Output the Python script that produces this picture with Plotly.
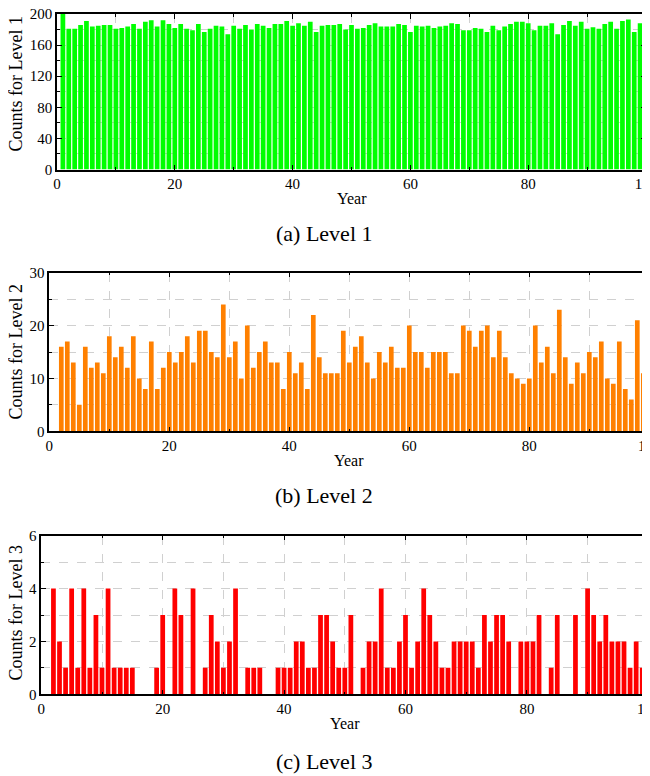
import plotly.graph_objects as go

# ---------------- data ----------------
years_l1 = list(range(1, 100))
counts_l1 = [200, 181, 181, 186, 191, 184, 185, 186, 186, 181,
             182, 184, 187, 181, 190, 192, 184, 192, 187, 182,
             187, 181, 179, 187, 177, 181, 185, 184, 174, 185,
             181, 186, 180, 187, 185, 182, 187, 187, 191, 185,
             188, 185, 190, 177, 185, 186, 186, 187, 180, 186,
             181, 182, 186, 188, 184, 184, 184, 187, 186, 177,
             185, 184, 185, 182, 184, 185, 188, 187, 179, 179,
             182, 181, 177, 185, 179, 184, 187, 190, 190, 188,
             179, 185, 185, 188, 174, 186, 191, 185, 190, 181,
             183, 181, 187, 190, 181, 191, 193, 177, 188]

years_l2 = list(range(2, 100))
counts_l2 = [16, 17, 13, 5, 16, 12, 13, 11, 18,
             14, 16, 12, 18, 10, 8, 17, 8, 12, 15,
             13, 15, 18, 13, 19, 19, 15, 14, 24, 14,
             17, 10, 20, 12, 15, 17, 13, 13, 8, 15,
             11, 13, 8, 22, 14, 11, 11, 11, 19, 13,
             16, 18, 13, 10, 15, 13, 16, 12, 12, 20,
             15, 15, 12, 15, 15, 15, 11, 11, 20, 19,
             16, 19, 20, 14, 19, 14, 11, 10, 9, 10,
             20, 13, 16, 11, 23, 14, 9, 13, 11, 15,
             14, 17, 10, 9, 17, 8, 6, 21, 11]

years_l3 = list(range(2, 101))
counts_l3 = [4, 2, 1, 4, 1, 4, 1, 3, 1,
             4, 1, 1, 1, 1, 0, 0, 0, 1, 3,
             0, 4, 3, 0, 4, 0, 1, 3, 2, 1,
             2, 4, 0, 1, 1, 1, 0, 0, 1, 1,
             1, 2, 2, 1, 1, 3, 3, 2, 1, 1,
             3, 0, 1, 2, 2, 4, 1, 1, 2, 3,
             1, 2, 4, 3, 2, 1, 1, 2, 2, 2,
             2, 1, 3, 2, 3, 3, 2, 0, 2, 2,
             2, 3, 0, 1, 3, 0, 0, 3, 0, 4,
             3, 2, 3, 2, 2, 2, 1, 2, 1, 2]

x_ticks = [0, 20, 40, 60, 80, 100]
y_ticks_l1 = [0, 40, 80, 120, 160, 200]
y_ticks_l2 = [0, 10, 20, 30]
y_ticks_l3 = [0, 2, 4, 6]

captions = ["(a) Level 1", "(b) Level 2", "(c) Level 3"]
y_titles = ["Counts for Level 1", "Counts for Level 2", "Counts for Level 3"]

# ---------------- figure ----------------
OFF = 8  # page body margin
W, H = 650 - OFF, 776 - OFF
FONT = "'Liberation Serif', 'Times New Roman', 'DejaVu Serif', serif"

fig = go.Figure()
fig.add_trace(go.Bar(x=years_l1, y=counts_l1, width=0.8, marker=dict(color="#00ff00", line=dict(width=0)),
                     xaxis="x", yaxis="y"))
fig.add_trace(go.Bar(x=years_l2, y=counts_l2, width=0.78, marker=dict(color="#ff8000", line=dict(width=0)),
                     xaxis="x2", yaxis="y2"))
fig.add_trace(go.Bar(x=years_l3, y=counts_l3, width=0.78, marker=dict(color="#ff0000", line=dict(width=0)),
                     xaxis="x3", yaxis="y3"))


def px_x(p):
    return (p - OFF) / W


def px_y(p):
    return 1 - (p - OFF) / H


GRID = "#d0d0d0"
common_axis = dict(showline=True, linecolor="black", linewidth=1.5, mirror="allticks",
                   ticks="inside", ticklen=5, tickwidth=1.2, tickcolor="black",
                   tickfont=dict(family=FONT, size=15, color="black"),
                   zeroline=False, ticklabeloverflow="allow", automargin=False,
                   showgrid=True, gridcolor=GRID, griddash="dash", gridwidth=1)

panels = [
    # x0, x1, ytop, ybottom, yrange, yticks, minor dy
    (57, 646, 14, 169.5, [0, 200], y_ticks_l1, 20),
    (49.3, 649.3, 272.7, 431.3, [0, 30], y_ticks_l2, 5),
    (41.3, 648.3, 535.7, 694.3, [0, 6], y_ticks_l3, 1),
]

layout = dict(width=W, height=H, margin=dict(l=0, r=0, t=0, b=0, pad=0, autoexpand=False),
              paper_bgcolor="white", plot_bgcolor="white", showlegend=False,
              font=dict(family=FONT, color="black"))
annotations = []
year_y = [198, 460, 723]
cap_y = [233, 495, 761]
ytitle_y = [84, 352, 613]
for i, (x0, x1, yt, yb, yr, yt_vals, mdy) in enumerate(panels):
    sfx = "" if i == 0 else str(i + 1)
    layout["xaxis" + sfx] = dict(domain=[px_x(x0), min(1, px_x(x1))], range=[0, 100], tickvals=x_ticks,
                                 anchor="y" + sfx,
                                 minor=dict(dtick=10, tick0=0, ticks="inside", ticklen=3, tickcolor="black",
                                            showgrid=True, gridcolor=GRID, griddash="dash"),
                                 **common_axis)
    layout["yaxis" + sfx] = dict(domain=[px_y(yb), px_y(yt)], range=yr, tickvals=yt_vals,
                                 anchor="x" + sfx,
                                 minor=dict(dtick=mdy, tick0=0, ticks="inside", ticklen=3, tickcolor="black",
                                            showgrid=True, gridcolor=GRID, griddash="dash"),
                                 **common_axis)
    annotations.append(dict(text="Year", x=px_x((x0 + x1) / 2), y=px_y(year_y[i]), xref="paper", yref="paper",
                            showarrow=False, xanchor="center", yanchor="middle",
                            font=dict(family=FONT, size=16, color="black")))
    annotations.append(dict(text=y_titles[i], x=px_x(15.5), y=px_y(ytitle_y[i]), xref="paper", yref="paper",
                            showarrow=False, xanchor="center", yanchor="middle", textangle=-90,
                            font=dict(family=FONT, size=18, color="black")))
    annotations.append(dict(text=captions[i], x=px_x(324), y=px_y(cap_y[i]), xref="paper", yref="paper",
                            showarrow=False, xanchor="center", yanchor="middle",
                            font=dict(family=FONT, size=22, color="black")))

layout["annotations"] = annotations
fig.update_layout(**layout)

fig.write_html("out.html")
